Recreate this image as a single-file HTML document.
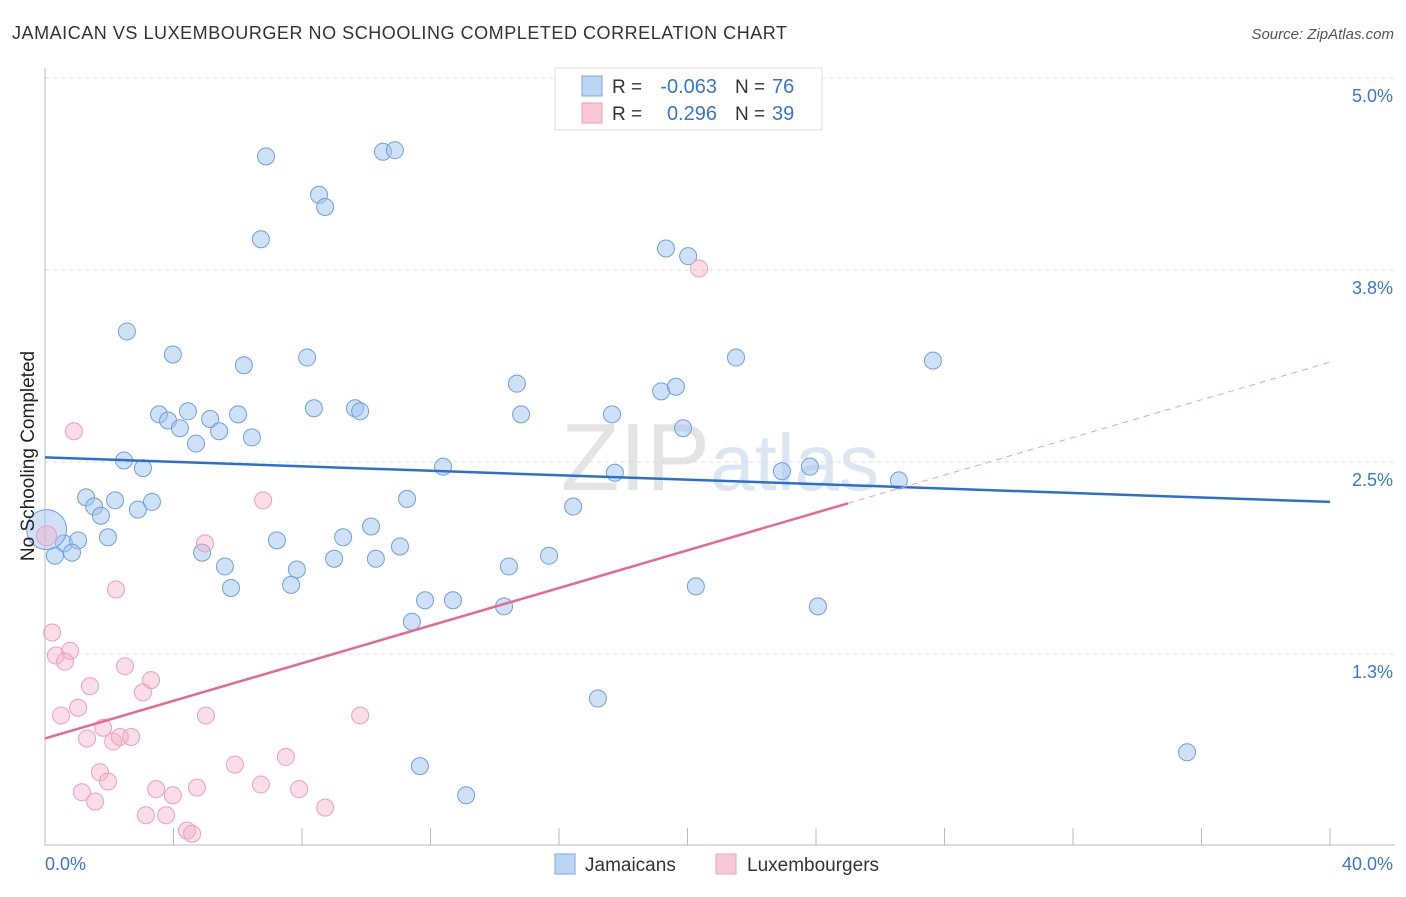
<!DOCTYPE html>
<html><head><meta charset="utf-8"><style>
body{margin:0;background:#fff;font-family:"Liberation Sans",sans-serif}
svg text{font-family:"Liberation Sans",sans-serif}
</style></head><body>
<svg id="c" width="1406" height="892" xmlns="http://www.w3.org/2000/svg">
<text x="12" y="39" font-size="18" fill="#333" textLength="775" lengthAdjust="spacing">JAMAICAN VS LUXEMBOURGER NO SCHOOLING COMPLETED CORRELATION CHART</text>
<text x="1394" y="39" font-size="15" fill="#555" text-anchor="end" font-style="italic">Source: ZipAtlas.com</text>
<text x="720" y="490" font-size="96" fill="#e4e4e4" text-anchor="middle" font-family="Liberation Serif">ZIP<tspan fill="#dce6f3" font-family="Liberation Sans" font-size="80">atlas</tspan></text>
<g id="grid"></g>
<g id="axes"></g>
<g id="marks"></g>
<g id="trend"></g>
<text x="34" y="456" font-size="19" fill="#222" text-anchor="middle" transform="rotate(-90 34 456)">No Schooling Completed</text>
<g>
<rect x="555" y="68" width="267" height="62" fill="#fff" stroke="#ddd"/>
<rect x="582" y="76" width="20" height="20" fill="#bcd5f5" stroke="#7aa8e0"/>
<rect x="582" y="103" width="20" height="20" fill="#f9c8d6" stroke="#eba0b8"/>
<text x="612" y="93" font-size="19" fill="#333">R =</text>
<text x="717" y="93" font-size="20" fill="#3a75d0" text-anchor="end">-0.063</text>
<text x="735" y="93" font-size="19" fill="#333">N =</text>
<text x="772" y="93" font-size="20" fill="#3a75d0">76</text>
<text x="612" y="120" font-size="19" fill="#333">R =</text>
<text x="717" y="120" font-size="20" fill="#3a75d0" text-anchor="end">0.296</text>
<text x="735" y="120" font-size="19" fill="#333">N =</text>
<text x="772" y="120" font-size="20" fill="#3a75d0">39</text>
</g>
<g>
<rect x="555" y="854" width="20" height="20" fill="#bcd5f5" stroke="#7aa8e0"/>
<text x="585" y="871" font-size="19" fill="#333">Jamaicans</text>
<rect x="716" y="854" width="20" height="20" fill="#f9c8d6" stroke="#eba0b8"/>
<text x="747" y="871" font-size="19" fill="#333">Luxembourgers</text>
</g>
</svg>
<script>
const yTicks=[5.0,3.75,2.5,1.25];
const yTickLabels=["5.0%","3.8%","2.5%","1.3%"];
const xTickVals=[4,8,12,16,20,24,28,32,36,40];
const blueX=[6.88,10.52,10.89,8.53,8.72,6.72,19.33,20.02,2.55,3.98,6.19,8.16,21.51,27.64,14.69,19.18,19.64,3.55,3.83,4.45,5.14,4.20,5.42,6.01,8.37,9.65,9.81,14.82,17.65,19.86,4.70,6.44,2.46,3.05,12.39,17.74,22.94,23.81,26.58,1.28,1.53,1.74,2.18,2.89,3.33,11.27,16.44,10.15,9.28,7.22,1.96,0.59,1.03,0.84,0.31,0.05,4.89,5.60,5.79,7.84,7.66,9.00,10.30,11.05,15.69,14.44,11.83,12.70,11.42,14.29,20.26,24.06,17.21,11.67,13.11,35.55];
const blueY=[4.49,4.52,4.53,4.24,4.16,3.95,3.89,3.84,3.35,3.20,3.13,3.18,3.18,3.16,3.01,2.96,2.99,2.81,2.77,2.83,2.78,2.72,2.70,2.81,2.85,2.85,2.83,2.81,2.81,2.72,2.62,2.66,2.51,2.46,2.47,2.43,2.44,2.47,2.38,2.27,2.21,2.15,2.25,2.19,2.24,2.26,2.21,2.08,2.01,1.99,2.01,1.97,1.99,1.91,1.89,2.06,1.91,1.82,1.68,1.80,1.70,1.87,1.87,1.95,1.89,1.82,1.60,1.60,1.46,1.56,1.69,1.56,0.96,0.52,0.33,0.61];
const pinkX=[20.36,0.90,6.79,4.98,0.05,2.21,0.22,0.34,0.78,0.62,2.49,3.30,1.40,3.05,0.50,1.03,5.01,9.81,1.81,1.31,2.12,2.33,2.68,5.91,7.50,1.71,1.96,1.15,1.56,3.46,3.98,4.73,6.72,7.91,3.14,3.77,8.72,4.42,4.58];
const pinkY=[3.76,2.70,2.25,1.97,2.02,1.67,1.39,1.24,1.27,1.20,1.17,1.08,1.04,1.00,0.85,0.90,0.85,0.85,0.77,0.70,0.68,0.71,0.71,0.53,0.58,0.48,0.42,0.35,0.29,0.37,0.33,0.38,0.40,0.37,0.20,0.20,0.25,0.10,0.08];
const blueTrend=[2.53,2.24];
const pinkTrend=[0.70,3.15];
const X=v=>45+v*32.125, Y=v=>846-v*153.6;
const NS="http://www.w3.org/2000/svg";
function mk(t,a,p){const e=document.createElementNS(NS,t);for(const k in a)e.setAttribute(k,a[k]);p.appendChild(e);return e;}
const grid=document.getElementById('grid'),axes=document.getElementById('axes'),marks=document.getElementById('marks'),trend=document.getElementById('trend');
yTicks.forEach((v,i)=>{
 const l=mk('line',{x1:45,x2:1395,y1:Y(v),y2:Y(v),stroke:'#ddd','stroke-dasharray':'4,4'},grid);
 
 
 const t=mk('text',{x:1393,y:Y(v)+24,'font-size':18,fill:'#3a75d0','text-anchor':'end'},grid);
 t.textContent=yTickLabels[i];
 
 
});
const ax=mk('path',{d:'M45 68V845H1395',fill:'none',stroke:'#bbb'},axes);


xTickVals.forEach(v=>{
 const l=mk('line',{x1:X(v),x2:X(v),y1:828,y2:845,stroke:'#bbb'},axes);
 
 
});
[[0,'0.0%','start',45],[40,'40.0%','end',1393]].forEach(a=>{
 const t=mk('text',{x:a[3],y:870,'font-size':18,fill:'#3a75d0','text-anchor':a[2]},axes);
 t.textContent=a[1];
 
 
});
blueX.forEach((x,i)=>{
 const c=mk('circle',{cx:X(x),cy:Y(blueY[i]),r:i==55?20:8.5,fill:'rgba(160,196,240,0.5)',stroke:'#6fa0df','stroke-width':1},marks);
 
 
});
pinkX.forEach((x,i)=>{
 const c=mk('circle',{cx:X(x),cy:Y(pinkY[i]),r:i==4?10:8.5,fill:'rgba(245,180,200,0.45)',stroke:'#eba0b8','stroke-width':1},marks);
 
 
});
const bt=mk('line',{x1:X(0),y1:Y(blueTrend[0]),x2:X(40),y2:Y(blueTrend[1]),stroke:'#2a6fd6','stroke-width':2.5},trend);


const pAt=x=>pinkTrend[0]+(pinkTrend[1]-pinkTrend[0])*x/40;
const pt=mk('line',{x1:X(0),y1:Y(pAt(0)),x2:X(25),y2:Y(pAt(25)),stroke:'#e46a94','stroke-width':2.5},trend);


const pd=mk('line',{x1:X(25),y1:Y(pAt(25)),x2:X(40),y2:Y(pAt(40)),stroke:'#e9a0b8','stroke-width':1,'stroke-dasharray':'6,5'},trend);


</script>
</body></html>
